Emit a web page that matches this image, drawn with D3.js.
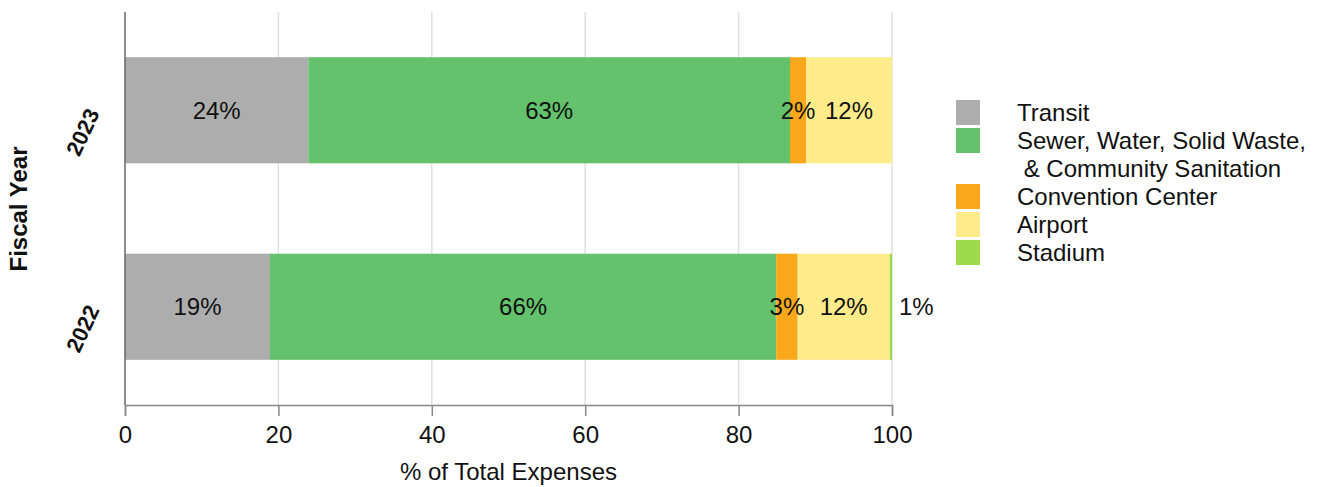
<!DOCTYPE html>
<html><head><meta charset="utf-8">
<script src="https://cdn.jsdelivr.net/npm/d3@7"></script>
<style>body{margin:0;background:#fff}text{font-family:"Liberation Sans",Arial,Helvetica,sans-serif}</style>
</head><body>
<svg id="c" width="1322" height="487"></svg>
<script>
const years = ["2023", "2022"];
const series = ["Transit", "Sewer, Water, Solid Waste,\n & Community Sanitation", "Convention Center", "Airport", "Stadium"];
const colors = ["#adadad", "#63c26b", "#f9a81c", "#feec8a", "#9edb4b"];
const transit = [23.9, 18.9];
const sewer = [62.8, 66.0];
const convention = [2.1, 2.8];
const airport = [11.7, 12.0];
const stadium = [0, 0.6];
const xTicks = [0, 20, 40, 60, 80, 100];
const xTitle = "% of Total Expenses";
const yTitle = "Fiscal Year";

const cols = [transit, sewer, convention, airport, stadium];
const svg = d3.select("#c");
const m = {l:125, r:430, t:12, b:82};
const W = 1322, H = 487;
const x = d3.scaleLinear().domain([0,100]).range([m.l, W - m.r]).clamp(true);
const y = d3.scaleBand().domain(years).range([m.t, H - m.b]).paddingInner(0.46).paddingOuter(0.23);
const FS = 24;

// grid
svg.append("g").selectAll("line").data(xTicks.slice(1)).join("line")
  .attr("x1", d=>x(d)).attr("x2", d=>x(d)).attr("y1", m.t).attr("y2", H-m.b)
  .attr("stroke", "#e0e0e0").attr("stroke-width", 1.5);

// stacked data
const rows = years.map((yr,i)=>{ const o={year:yr}; cols.forEach((c,j)=>o[j]=c[i]); return o;});
const stack = d3.stack().keys(d3.range(cols.length))(rows);

const g = svg.append("g");
stack.forEach((layer, j)=>{
  g.selectAll(null).data(layer).join("rect")
    .attr("x", d=>x(d[0])).attr("width", d=>Math.max(0, x(d[1])-x(d[0])))
    .attr("y", d=>y(d.data.year)).attr("height", y.bandwidth())
    .attr("fill", colors[j]);
});
stack.forEach((layer, j)=>{
  layer.forEach(d=>{
    const v = d[1]-d[0];
    if (v <= 0) return;
    const x0 = x(d[0]), x1 = x(d[1]);
    const cy = y(d.data.year) + y.bandwidth()/2;
    const lbl = Math.round(v) + "%";
    const t = g.append("text").attr("y", cy).attr("dy", "0.35em")
      .attr("font-size", FS).attr("fill", "#111").text(lbl);
    if (x1 - x0 < 6) t.attr("x", x1 + 7).attr("text-anchor", "start");
    else t.attr("x", (x0+x1)/2).attr("text-anchor", "middle");
  });
});

// x axis
const xa = svg.append("g").attr("transform", `translate(0,${H-m.b})`)
  .call(d3.axisBottom(x).tickValues(xTicks).tickSize(11).tickPadding(10));
xa.select(".domain").attr("stroke", "#888").attr("stroke-width", 1.5);
xa.selectAll(".tick line").attr("stroke", "#888").attr("stroke-width", 1.5);
xa.selectAll(".tick text").attr("font-size", FS).attr("fill", "#111").style("font-family", '"Liberation Sans",Arial,sans-serif');

// y axis line
svg.append("line").attr("x1", m.l).attr("x2", m.l).attr("y1", m.t).attr("y2", H-m.b)
  .attr("stroke", "#666").attr("stroke-width", 1.5);

// y tick labels
svg.append("g").selectAll("text").data(years).join("text")
  .attr("transform", d=>`translate(${m.l-25},${y(d)+y.bandwidth()/2+3}) rotate(-65)`)
  .attr("text-anchor", "end").attr("font-size", 22).attr("font-weight", "bold").attr("fill", "#111")
  .text(d=>d);

// titles
svg.append("text").attr("x", (x(0)+x(100))/2).attr("y", 472).attr("dy", "0.35em").attr("text-anchor", "middle")
  .attr("font-size", FS).attr("fill", "#111").text(xTitle);
svg.append("text").attr("transform", `translate(19,209) rotate(-90)`).attr("dy", "0.35em")
  .attr("text-anchor", "middle").attr("font-size", FS).attr("font-weight", "bold").attr("fill", "#111").text(yTitle);

// legend
const lg = svg.append("g").attr("transform", "translate(956,100)");
let yy = 0;
series.forEach((s,i)=>{
  const lines = s.split("\n");
  lg.append("rect").attr("x", 0).attr("y", yy).attr("width", 24).attr("height", 25).attr("fill", colors[i]);
  lines.forEach((ln,k)=>{
    lg.append("text").attr("x", 61).attr("y", yy + 12.5 + k*28).attr("dy", "0.35em")
      .attr("font-size", FS).attr("fill", "#111").style("white-space","pre").text(ln);
  });
  yy += 28*lines.length;
});
</script>
</body></html>
